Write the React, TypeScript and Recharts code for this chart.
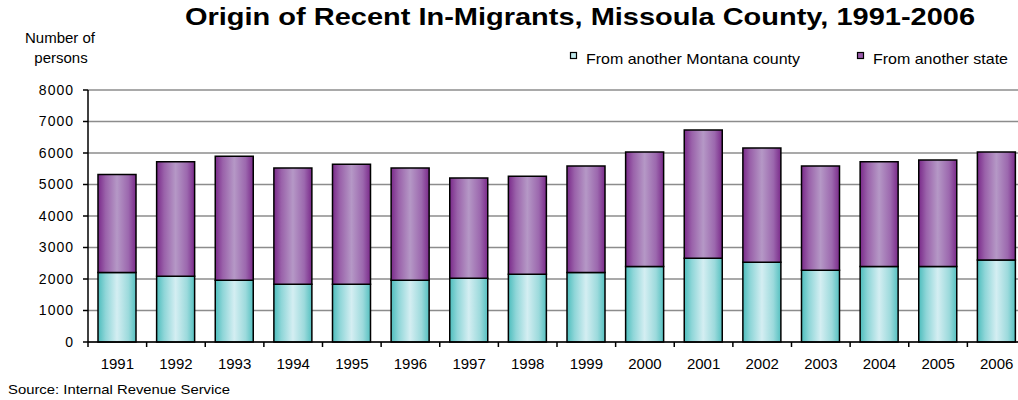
import React from 'react';
import { BarChart, Bar, XAxis, YAxis, CartesianGrid } from 'recharts';

const years = ['1991', '1992', '1993', '1994', '1995', '1996', '1997', '1998', '1999', '2000', '2001', '2002', '2003', '2004', '2005', '2006'];
const fromMontana = [2210, 2090, 1960, 1830, 1830, 1960, 2020, 2150, 2210, 2400, 2660, 2530, 2280, 2400, 2400, 2600];
const fromOtherState = [3110, 3630, 3940, 3695, 3810, 3565, 3190, 3110, 3380, 3630, 4070, 3630, 3310, 3320, 3380, 3430];
const yTicks = [0, 1000, 2000, 3000, 4000, 5000, 6000, 7000, 8000];

const seriesNames = ['From another Montana county', 'From another state'];
const titleText = 'Origin of Recent In-Migrants, Missoula County, 1991-2006';
const yLabelLines = ['Number of', 'persons'];
const sourceText = 'Source: Internal Revenue Service';

const data = years.map((y, i) => ({ year: y, montana: fromMontana[i], state: fromOtherState[i] }));

const FONT = '"Liberation Sans", Arial, Helvetica, sans-serif';
const CHART_W = 1026;
const CHART_H = 400;
const Y_W = 88;
const TICK_SIZE = 6;
const TICK_MARGIN = 10;
const BAND = (CHART_W - Y_W) / years.length;

const XTick = (props: any) => {
  const { x, y, payload } = props;
  const half = payload && typeof payload.offset === 'number' && payload.offset > 0 ? payload.offset : BAND / 2;
  const axisY = y - TICK_SIZE - TICK_MARGIN;
  return (
    <g>
      <line x1={x - half} x2={x - half} y1={axisY} y2={axisY + 5} stroke="#000" strokeWidth={1.5} />
      <text x={x} y={y} dy="0.71em" textAnchor="middle" fontSize={15} fontFamily={FONT} fill="#000">
        {payload.value}
      </text>
    </g>
  );
};

const YTick = (props: any) => {
  const { x, y, payload } = props;
  return (
    <text x={x} y={y} dy="0.355em" textAnchor="end" fontSize={14} fontFamily={FONT} fill="#000" letterSpacing={1}>
      {payload.value}
    </text>
  );
};

export default function App() {
  return (
    <div style={{ position: 'absolute', left: 0, top: 0, width: 1018, height: 400, overflow: 'hidden', background: '#fff' }}>
      <BarChart
        width={CHART_W}
        height={CHART_H}
        data={data}
        margin={{ top: 90, right: 0, bottom: 0, left: 0 }}
        barSize={38}
      >
        <defs>
          <linearGradient id="gTeal" x1="0" y1="0" x2="1" y2="0">
            <stop offset="0%" stopColor="#4dbdbd" />
            <stop offset="20%" stopColor="#8fd6d8" />
            <stop offset="50%" stopColor="#d4eef2" />
            <stop offset="80%" stopColor="#9cdadc" />
            <stop offset="100%" stopColor="#55c0c0" />
          </linearGradient>
          <linearGradient id="gPurple" x1="0" y1="0" x2="1" y2="0">
            <stop offset="0%" stopColor="#7a2a8a" />
            <stop offset="20%" stopColor="#9a62aa" />
            <stop offset="50%" stopColor="#b598c6" />
            <stop offset="80%" stopColor="#9c68ae" />
            <stop offset="100%" stopColor="#7a2a8a" />
          </linearGradient>
        </defs>
        <CartesianGrid vertical={false} stroke="#8c8c8c" strokeWidth={1.5} />
        <XAxis
          dataKey="year"
          interval={0}
          height={400 - 342}
          tickLine={false}
          tickSize={TICK_SIZE}
          tickMargin={TICK_MARGIN}
          axisLine={{ stroke: '#000', strokeWidth: 1.5 }}
          tick={<XTick />}
        />
        <YAxis
          width={Y_W}
          domain={[0, 8000]}
          ticks={yTicks}
          interval={0}
          tickSize={5}
          tickMargin={9}
          axisLine={{ stroke: '#000', strokeWidth: 1.5 }}
          tickLine={{ stroke: '#000', strokeWidth: 1.5 }}
          tick={<YTick />}
        />
        <Bar dataKey="montana" name={seriesNames[0]} stackId="a" fill="url(#gTeal)" stroke="#000" strokeWidth={1.5} isAnimationActive={false} />
        <Bar dataKey="state" name={seriesNames[1]} stackId="a" fill="url(#gPurple)" stroke="#000" strokeWidth={1.5} isAnimationActive={false} />
      </BarChart>
      <svg width={1018} height={400} style={{ position: 'absolute', left: 0, top: 0, pointerEvents: 'none' }}>
        <text x={580} y={25} textAnchor="middle" fontSize={24} fontWeight="bold" fontFamily={FONT} fill="#000" textLength={790} lengthAdjust="spacingAndGlyphs">
          {titleText}
        </text>
        <text x={60} y={43} textAnchor="middle" fontSize={15} fontFamily={FONT} fill="#000">{yLabelLines[0]}</text>
        <text x={61} y={63} textAnchor="middle" fontSize={15} fontFamily={FONT} fill="#000">{yLabelLines[1]}</text>
        <rect x={570.5} y={52.5} width={6} height={6} fill="#bfe8ea" stroke="#000" strokeWidth={1.2} />
        <text x={586} y={63.5} fontSize={15} fontFamily={FONT} fill="#000" textLength={214} lengthAdjust="spacingAndGlyphs">{seriesNames[0]}</text>
        <rect x={857.5} y={52.5} width={6} height={6} fill="#9a5aaa" stroke="#000" strokeWidth={1.2} />
        <text x={873} y={63.5} fontSize={15} fontFamily={FONT} fill="#000" textLength={135} lengthAdjust="spacingAndGlyphs">{seriesNames[1]}</text>
        <text x={8} y={394} fontSize={13} fontFamily={FONT} fill="#000" textLength={222} lengthAdjust="spacingAndGlyphs">{sourceText}</text>
      </svg>
    </div>
  );
}
